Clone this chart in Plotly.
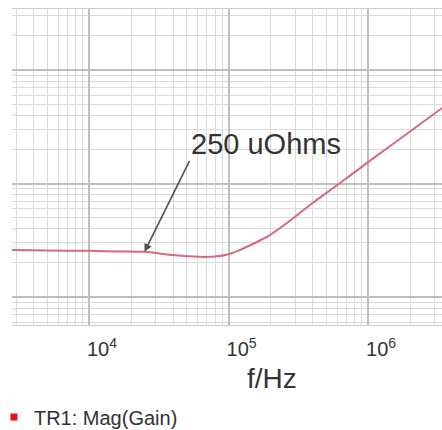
import plotly.graph_objects as go

# Measured impedance magnitude vs. frequency
freq_hz = [2800, 5000, 10000, 17000, 25000, 40000, 62000, 80000, 95000,
           120000, 190000, 280000, 400000, 630000, 1100000, 2000000, 3400000]
mag_ohm = [259e-6, 257e-6, 255e-6, 252e-6, 250e-6, 234e-6, 226e-6, 227e-6, 234e-6,
           259e-6, 340e-6, 477e-6, 673e-6, 1.01e-3, 1.68e-3, 2.87e-3, 4.63e-3]

trace_name = "TR1: Mag(Gain)"
x_tick_vals = [1e4, 1e5, 1e6]
x_tick_text = ["10<sup>4</sup>", "10<sup>5</sup>", "10<sup>6</sup>"]

marker_freq = 25000
marker_mag = 250e-6
marker_text = "250 uOhms"

FONT = "Liberation Sans, Arial, sans-serif"

fig = go.Figure()
fig.add_trace(go.Scatter(
    x=freq_hz, y=mag_ohm, mode="lines",
    line=dict(color="#d8687c", width=2, shape="spline", smoothing=0.5),
    showlegend=False, hoverinfo="skip",
))
# legend entry for the trace
fig.add_trace(go.Scatter(
    x=[None], y=[None], mode="markers", name=trace_name,
    marker=dict(symbol="square", size=7, color="#e3101c"),
))

fig.update_layout(
    width=442, height=430,
    margin=dict(l=12, r=0, t=9, b=105, autoexpand=False),
    paper_bgcolor="white", plot_bgcolor="white",
    font=dict(family=FONT, color="#333333"),
    showlegend=True,
    legend=dict(x=-0.042, y=-0.291, xref="paper", yref="paper",
                xanchor="left", yanchor="middle",
                font=dict(size=20, color="#333333"),
                itemwidth=30, bgcolor="rgba(0,0,0,0)"),
    xaxis=dict(
        type="log", range=[3.448, 6.530],
        tickvals=x_tick_vals, ticktext=x_tick_text,
        tickfont=dict(size=20, color="#333333"),
        ticks="", ticklabelshift=13, ticklabelstandoff=6,
        showgrid=True, gridcolor="#bfbfbf", gridwidth=1.5,
        minor=dict(dtick="D1", showgrid=True, gridcolor="#dadada", gridwidth=1),
        showline=True, mirror=True, linecolor="#cccccc", linewidth=1,
        zeroline=False,
    ),
    yaxis=dict(
        type="log", range=[-4.2467, -1.4626],
        showticklabels=False, ticks="",
        dtick=1,
        showgrid=True, gridcolor="#bfbfbf", gridwidth=1.5,
        minor=dict(dtick="D1", showgrid=True, gridcolor="#dadada", gridwidth=1),
        zeroline=False,
    ),
    annotations=[
        dict(
            x=4.39794, y=-3.60206, xref="x", yref="y",
            text=marker_text, showarrow=True,
            ax=45, ay=-91, axref="pixel", ayref="pixel",
            xanchor="left", yanchor="bottom",
            font=dict(family=FONT, size=29, color="#333333"),
            arrowhead=2, arrowsize=1, arrowwidth=1.6, arrowcolor="#505050",
            borderpad=0,
        ),
        dict(
            x=(272 - 12) / 430, y=-0.17, xref="paper", yref="paper",
            text="f/Hz", showarrow=False, xanchor="center", yanchor="middle",
            font=dict(size=28, color="#333333"),
        ),
    ],
)

fig.write_html("out.html")
